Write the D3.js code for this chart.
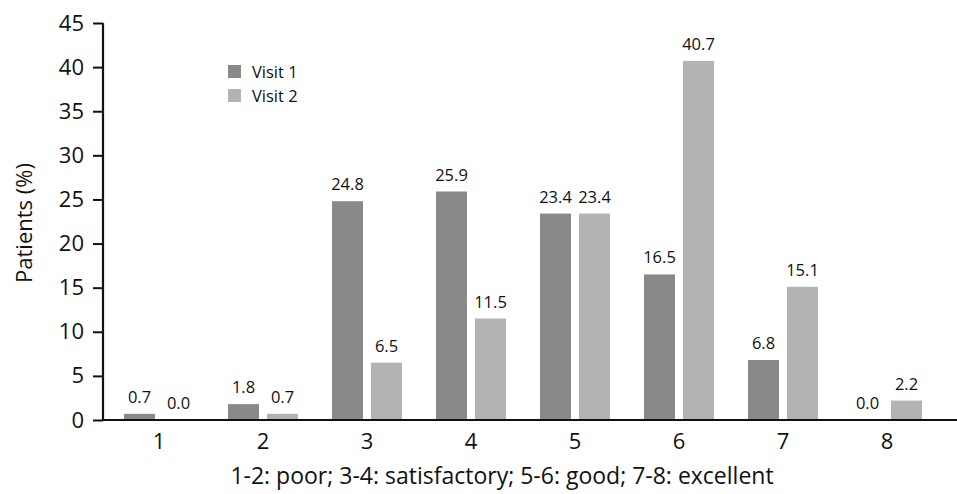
<!DOCTYPE html>
<html><head><meta charset="utf-8">
<script src="https://cdn.jsdelivr.net/npm/d3@7"></script>
<style>body{margin:0;background:#fff;} text{font-family:"Open Sans",sans-serif;fill:#111;}</style>
</head><body>
<svg id="c" width="957" height="494"></svg>
<script>
const categories = ["1","2","3","4","5","6","7","8"];
const seriesNames = ["Visit 1","Visit 2"];
const visit1 = [0.7,1.8,24.8,25.9,23.4,16.5,6.8,0.0];
const visit2 = [0.0,0.7,6.5,11.5,23.4,40.7,15.1,2.2];
const yTicks = [0,5,10,15,20,25,30,35,40,45];
const colors = ["#898989","#b3b3b3"];
const xTitle = "1-2: poor; 3-4: satisfactory; 5-6: good; 7-8: excellent";
const yTitle = "Patients (%)";

const svg = d3.select("#c");
const y = d3.scaleLinear().domain([0,45]).range([420,23]);
const x = d3.scaleBand().domain(categories).range([107,939]).padding(0);
const xs = d3.scaleBand().domain(seriesNames).range([17,87]).paddingInner(0.205).paddingOuter(0);

const data = categories.map((c,i)=>({cat:c, vals:[visit1[i],visit2[i]]}));
const g = svg.append("g");
data.forEach(d=>{
  d.vals.forEach((v,j)=>{
    const bx = x(d.cat)+xs(seriesNames[j]);
    if (v>0) g.append("rect").attr("x",bx).attr("y",y(v)).attr("width",xs.bandwidth()).attr("height",y(0)-y(v)).attr("fill",colors[j]);
    g.append("text").attr("x",bx+xs.bandwidth()/2).attr("y",y(v)-11).attr("text-anchor","middle").attr("font-size",16.5).text(v.toFixed(1));
  });
});

// y axis
const ya = svg.append("g").attr("transform","translate(103,0)").call(d3.axisLeft(y).tickValues(yTicks).tickSize(10).tickPadding(9));
ya.select(".domain").attr("stroke","#111").attr("stroke-width",2.2).attr("d","M0,23V420");
ya.selectAll(".tick line").attr("stroke","#111").attr("stroke-width",2);
ya.selectAll(".tick text").attr("font-size",22).attr("fill","#111").attr("font-family","Open Sans, sans-serif");

// x axis
const xa = svg.append("g").attr("transform","translate(0,420)").call(d3.axisBottom(x).tickSize(0).tickPadding(13));
xa.select(".domain").attr("stroke","#111").attr("stroke-width",2.2).attr("d","M102,0H957");
xa.selectAll(".tick text").attr("font-size",22).attr("fill","#111").attr("font-family","Open Sans, sans-serif");

svg.append("text").attr("x",502).attr("y",484).attr("text-anchor","middle").attr("font-size",23).text(xTitle);
svg.append("text").attr("transform","translate(32,223) rotate(-90)").attr("text-anchor","middle").attr("font-size",22).text(yTitle);

// legend
seriesNames.forEach((s,i)=>{
  svg.append("rect").attr("x",228).attr("y",65+i*24).attr("width",13).attr("height",13).attr("fill",colors[i]);
  svg.append("text").attr("x",252).attr("y",78+i*24).attr("font-size",16.5).text(s);
});
</script>
</body></html>
